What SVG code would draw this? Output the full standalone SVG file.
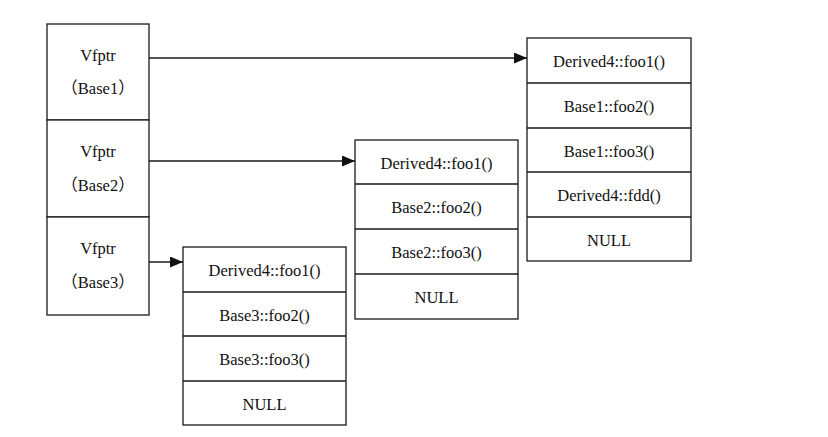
<svg xmlns="http://www.w3.org/2000/svg" width="828" height="437" viewBox="0 0 828 437">
<style>
.box{fill:#fff;stroke:#1a1a1a;stroke-width:1.3}
.sep{stroke:#1a1a1a;stroke-width:1.3}
text{font-family:"Liberation Serif","Noto Sans CJK SC",serif;font-size:16.5px;fill:#111;text-anchor:middle}
.conn{stroke:#1a1a1a;stroke-width:1.3;fill:none}
</style>
<defs>
<marker id="ah" markerWidth="13" markerHeight="11" refX="13" refY="5.5" orient="auto" markerUnits="userSpaceOnUse">
<path d="M0,0 L13,5.5 L0,11 Z" fill="#111"/>
</marker>
</defs>
<rect width="828" height="437" fill="#fff"/>
<g id="vfptr1">
<rect class="box" x="47" y="24" width="102" height="96"/>
<text x="98" y="61">Vfptr</text>
<text x="98" y="94">（Base1）</text>
</g>
<g id="vfptr2">
<rect class="box" x="47" y="120" width="102" height="97"/>
<text x="98" y="157">Vfptr</text>
<text x="98" y="191">（Base2）</text>
</g>
<g id="vfptr3">
<rect class="box" x="47" y="217" width="102" height="98"/>
<text x="98" y="254">Vfptr</text>
<text x="98" y="288">（Base3）</text>
</g>
<g id="vtable1">
<rect class="box" x="527" y="38" width="164" height="223"/>
<line class="sep" x1="527" y1="83" x2="691" y2="83"/>
<line class="sep" x1="527" y1="128" x2="691" y2="128"/>
<line class="sep" x1="527" y1="172" x2="691" y2="172"/>
<line class="sep" x1="527" y1="217" x2="691" y2="217"/>
<text x="609" y="67">Derived4::foo1()</text>
<text x="609" y="112">Base1::foo2()</text>
<text x="609" y="156.5">Base1::foo3()</text>
<text x="609" y="201">Derived4::fdd()</text>
<text x="609" y="245.5">NULL</text>
</g>
<g id="vtable2">
<rect class="box" x="355" y="140" width="163" height="179"/>
<line class="sep" x1="355" y1="184" x2="518" y2="184"/>
<line class="sep" x1="355" y1="229" x2="518" y2="229"/>
<line class="sep" x1="355" y1="274" x2="518" y2="274"/>
<text x="436.5" y="168.5">Derived4::foo1()</text>
<text x="436.5" y="213">Base2::foo2()</text>
<text x="436.5" y="258">Base2::foo3()</text>
<text x="436.5" y="303">NULL</text>
</g>
<g id="vtable3">
<rect class="box" x="183" y="247" width="163" height="178"/>
<line class="sep" x1="183" y1="292" x2="346" y2="292"/>
<line class="sep" x1="183" y1="336" x2="346" y2="336"/>
<line class="sep" x1="183" y1="381" x2="346" y2="381"/>
<text x="264.5" y="276">Derived4::foo1()</text>
<text x="264.5" y="320.5">Base3::foo2()</text>
<text x="264.5" y="365">Base3::foo3()</text>
<text x="264.5" y="409.5">NULL</text>
</g>
<g id="connectors">
<line class="conn" x1="149" y1="58" x2="527" y2="58" marker-end="url(#ah)"/>
<line class="conn" x1="149" y1="161" x2="355" y2="161" marker-end="url(#ah)"/>
<line class="conn" x1="149" y1="262" x2="183" y2="262" marker-end="url(#ah)"/>
</g>
</svg>
